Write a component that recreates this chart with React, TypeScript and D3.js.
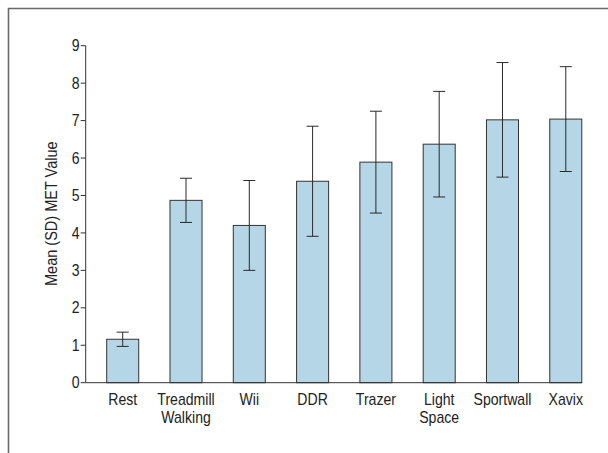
import React from "react";
import * as d3 from "d3";

const categories = ["Rest", "Treadmill\nWalking", "Wii", "DDR", "Trazer", "Light\nSpace", "Sportwall", "Xavix"];
const means = [1.16, 4.87, 4.2, 5.38, 5.89, 6.37, 7.02, 7.04];
const sds = [0.19, 0.59, 1.2, 1.47, 1.36, 1.41, 1.53, 1.4];
const yTicks = [0, 1, 2, 3, 4, 5, 6, 7, 8, 9];

const W = 608;
const H = 453;
const font = "'Liberation Sans', Arial, sans-serif";
const squeeze = 0.88;

// narrow text: Liberation Sans squeezed horizontally
const NarrowText = ({ x, y, anchor = "middle", size = 16, rotate = 0, children }: any) => (
  <g transform={`translate(${x},${y}) rotate(${rotate}) scale(${squeeze},1)`}>
    <text textAnchor={anchor} fontSize={size} fill="#222">
      {children}
    </text>
  </g>
);

export default function App() {
  const axisX = 85.7;
  const axisEnd = 582;
  const y = d3.scaleLinear().domain([0, 9]).range([382.7, 45.7]);
  const x = d3
    .scaleBand<string>()
    .domain(categories)
    .range([106.7, 581.8])
    .paddingInner(0.494)
    .paddingOuter(0);
  const bw = x.bandwidth();
  const cap = 6;

  return (
    <svg
      width={W}
      height={H}
      style={{ position: "absolute", left: 0, top: 0, background: "#fff" }}
      fontFamily={font}
    >
      {/* frame */}
      <path d={`M8.5,${H} V8.5 H${W}`} fill="none" stroke="#6b6b6b" strokeWidth={1.6} />

      {/* bars */}
      {categories.map((c, i) => (
        <rect
          key={c}
          x={x(c)!}
          y={y(means[i])}
          width={bw}
          height={y(0) - y(means[i])}
          fill="#b5d6e6"
          stroke="#333"
          strokeWidth={1}
        />
      ))}

      {/* error bars */}
      {categories.map((c, i) => {
        const cx = x(c)! + bw / 2;
        const top = y(means[i] + sds[i]);
        const bot = y(means[i] - sds[i]);
        return (
          <g key={"e" + c} stroke="#2a2a2a" strokeWidth={1}>
            <line x1={cx} x2={cx} y1={top} y2={bot} />
            <line x1={cx - cap} x2={cx + cap} y1={top} y2={top} />
            <line x1={cx - cap} x2={cx + cap} y1={bot} y2={bot} />
          </g>
        );
      })}

      {/* axes */}
      <line x1={axisX} x2={axisX} y1={y(9)} y2={y(0)} stroke="#333" strokeWidth={1} />
      <line x1={axisX} x2={axisEnd} y1={y(0)} y2={y(0)} stroke="#333" strokeWidth={1} />
      {yTicks.map((t) => (
        <g key={t}>
          <line x1={axisX - 5} x2={axisX} y1={y(t)} y2={y(t)} stroke="#333" strokeWidth={1} />
          <NarrowText x={79.5} y={y(t) + 5.6} anchor="end" size={16}>
            {t}
          </NarrowText>
        </g>
      ))}

      <NarrowText x={57} y={(y(0) + y(9)) / 2 - 0.5} rotate={-90} size={16.5}>
        Mean (SD) MET Value
      </NarrowText>

      {/* category labels */}
      {categories.map((c) =>
        c.split("\n").map((line, j) => (
          <NarrowText key={c + j} x={x(c)! + bw / 2} y={404.5 + j * 18} size={16}>
            {line}
          </NarrowText>
        ))
      )}
    </svg>
  );
}
